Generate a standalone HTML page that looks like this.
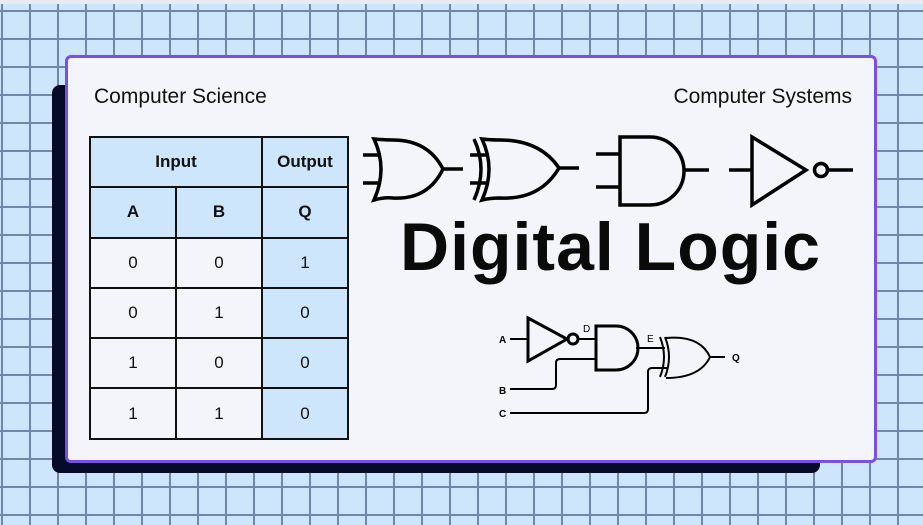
<!DOCTYPE html>
<html><head><style>
html,body{margin:0;padding:0}
body{width:923px;height:525px;position:relative;overflow:hidden;background:#cde6fb;
background-image:linear-gradient(to right,#6f88a6 0,#6f88a6 2px,transparent 2px),linear-gradient(to bottom,#6f88a6 0,#6f88a6 2px,transparent 2px);
background-size:28px 28px;background-position:1px 10px;font-family:"Liberation Sans",sans-serif}
.top{position:absolute;left:0;top:0;width:923px;height:4px;background:#e8ecf0}
.shadow{position:absolute;left:52px;top:85px;width:768px;height:388px;background:#060b2a;border-radius:8px}
.card{position:absolute;left:65px;top:55px;width:806px;height:402px;background:#f4f5fa;border:3px solid #7a4fe6;border-radius:6px}
.t{position:absolute;font-size:21px;color:#111}
table{position:absolute;left:89px;top:136px;border-collapse:collapse}
td{border:2px solid #111;width:84px;height:48.3px;text-align:center;font-size:17px;color:#111;padding:0}
.h td{background:#cde6fb;font-weight:bold}
.q{background:#cde6fb}
.title{position:absolute;left:400px;top:208px;font-size:68px;font-weight:bold;color:#0a0a0a;letter-spacing:1px}
svg{position:absolute;left:0;top:0}
</style></head><body>
<div class="top"></div>
<div class="shadow"></div>
<div class="card"></div>
<div class="t" style="left:94px;top:85px">Computer Science</div>
<div class="t" style="right:71px;top:85px">Computer Systems</div>
<table>
<tr class="h"><td colspan="2">Input</td><td>Output</td></tr>
<tr class="h"><td>A</td><td>B</td><td>Q</td></tr>
<tr><td>0</td><td>0</td><td class="q">1</td></tr>
<tr><td>0</td><td>1</td><td class="q">0</td></tr>
<tr><td>1</td><td>0</td><td class="q">0</td></tr>
<tr><td>1</td><td>1</td><td class="q">0</td></tr>
</table>
<div class="title">Digital Logic</div>
<svg width="923" height="525" fill="none" stroke="#000" stroke-width="3.5">
<path d="M363 155H381M363 183H381M443 169H463"/>
<path d="M374 139Q388 169 374 200Q385 197 393 198Q428 200 443 169Q428 140 393 140Q385 140 374 139Z"/>
<path d="M474 139Q488 169 474 200"/>
<path d="M470 155H487M470 183H487M559 168H579"/>
<path d="M482 139Q496 169 482 200Q490 198 500 198Q540 200 559 168Q540 140 500 140Q490 140 482 139Z"/>
<path d="M596 154H620M596 187H620M684 170H709"/>
<path d="M620 137H650A34 34 0 0 1 650 205H620Z"/>
<path d="M729 170H752M828 170H853"/>
<path d="M752 137L806 170L752 205Z"/>
<circle cx="821" cy="170" r="6.5"/>
</svg>
<svg width="923" height="525" fill="none" stroke="#000" stroke-width="2">
<path d="M510 339H528M578 339H596M636 348H665M710 357H725"/>
<path d="M528 318L567 339L528 361Z" stroke-width="3"/>
<circle cx="573" cy="339" r="5" stroke-width="3"/>
<path d="M596 326H616A22 22 0 0 1 616 370H596Z" stroke-width="3"/>
<path d="M596 359H560Q556 359 556 363V385Q556 389 552 389H510"/>
<path d="M510 413H644Q648 413 648 409V372Q648 368 652 368H668"/>
<path d="M660 337Q668 357 660 377M665 337Q673 357 665 377"/>
<path d="M666 338Q700 335 710 357Q700 378 666 378"/>
<g fill="#000" stroke="none" font-family="Liberation Sans,sans-serif" font-size="10" font-weight="bold">
<text x="499" y="343">A</text><text x="499" y="394">B</text><text x="499" y="417">C</text>
<text x="732" y="361">Q</text>
<text x="583" y="332" font-weight="normal">D</text><text x="647" y="342" font-weight="normal">E</text>
</g>
</svg>
</body></html>
